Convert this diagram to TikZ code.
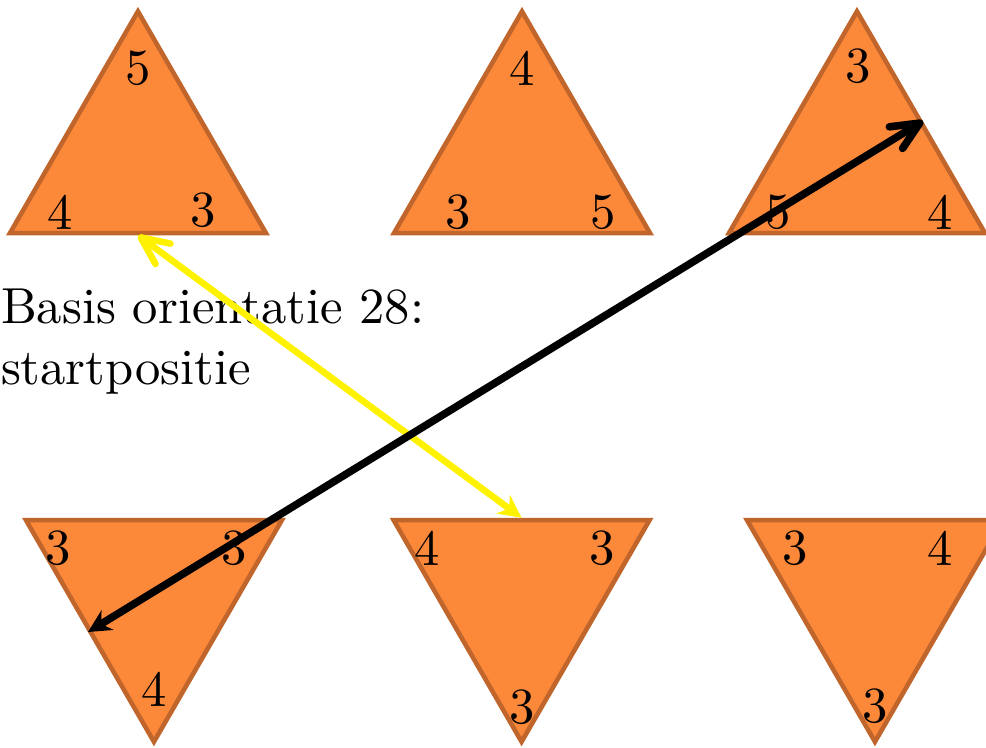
\documentclass[tikz,border=0pt]{standalone}
\usetikzlibrary{shapes.geometric, arrows.meta}
\definecolor{triFill}{HTML}{FC8839}
\definecolor{triEdge}{HTML}{C0652B}

\begin{document}
\begin{tikzpicture}[
  tri/.style={regular polygon, regular polygon sides=3, minimum size=20.53mm,
              inner sep=0pt, fill=triFill, draw=triEdge, line width=0.9pt},
  tridown/.style={tri, shape border rotate=180},
  num/.style={inner sep=0pt},
  flip/.style={line width=1.3pt,
               {Stealth[length=4.5pt, width=4.5pt]}-{Straight Barb[length=5.5pt, width=5pt, round]}},
]
\useasboundingbox (0,0) rectangle (6.847,5.1875);

% upper row: apex up
\node[tri] (tl) at (0.958,4.082) {};
\node[tri] (tm) at (3.625,4.082) {};
\node[tri] (tr) at (5.951,4.082) {};

% lower row: apex down
\node[tridown] (bl) at (1.069,1.063) {};
\node[tridown] (bm) at (3.622,1.063) {};
\node[tridown] (br) at (6.076,1.063) {};

% corner numbers
\node[num] (tl1) at (0.958,4.715) {5};
\node[num] (tl2) at (0.417,3.715) {4};
\node[num] (tl3) at (1.410,3.729) {3};
\node[num] (tm1) at (3.625,4.715) {4};
\node[num] (tm2) at (3.181,3.715) {3};
\node[num] (tm3) at (4.188,3.715) {5};
\node[num] (tr1) at (5.958,4.729) {3};
\node[num] (tr2) at (5.403,3.715) {5};
\node[num] (tr3) at (6.528,3.715) {4};

\node[num] (bl1) at (0.403,1.382) {3};
\node[num] (bl2) at (1.625,1.382) {3};
\node[num] (bl3) at (1.069,0.403) {4};
\node[num] (bm1) at (2.965,1.382) {4};
\node[num] (bm2) at (4.181,1.382) {3};
\node[num] (bm3) at (3.625,0.278) {3};
\node[num] (br1) at (5.521,1.382) {3};
\node[num] (br2) at (6.528,1.382) {4};
\node[num] (br3) at (6.076,0.285) {3};

% caption
\node[anchor=north west, align=left, inner sep=0pt] (cap) at (0,3.1875)
  {Basis orientatie 28:\\startpositie};

% swaps
\draw[flip, yellow] (bm.side 2) -- (tl.side 2);
\draw[flip, black, line width=1.5pt] (bl.side 3) -- (tr.side 3);
\end{tikzpicture}
\end{document}
